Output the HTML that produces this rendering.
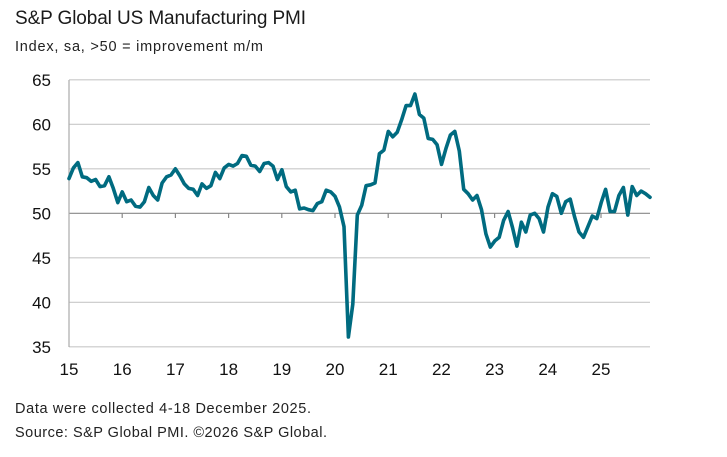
<!DOCTYPE html>
<html><head><meta charset="utf-8"><style>
body{margin:0;background:#fff;width:727px;height:452px;overflow:hidden;font-family:"Liberation Sans",sans-serif;color:#1a1a1a}
</style></head><body>
<svg width="727" height="452" xmlns="http://www.w3.org/2000/svg" font-family="Liberation Sans, sans-serif">
<text x="15" y="24" font-size="19" fill="#1a1a1a" textLength="291">S&amp;P Global US Manufacturing PMI</text>
<text x="15" y="51" font-size="14.5" fill="#222" textLength="248">Index, sa, &gt;50 = improvement m/m</text>
<g stroke="#c8c8c8" stroke-width="1.2" id="grid"></g>
<line x1="69" y1="80" x2="69" y2="347" stroke="#aaa" stroke-width="1.2"/>
<g font-size="17" fill="#111" text-anchor="end" id="ylab"></g>
<g font-size="17" fill="#111" text-anchor="middle" id="xlab"></g>
<polyline id="pl" fill="none" stroke="#006b80" stroke-width="3.6" stroke-linejoin="round" stroke-linecap="round"/>
<text x="15" y="413" font-size="14.5" fill="#222" textLength="296">Data were collected 4-18 December 2025.</text>
<text x="15" y="437" font-size="14.5" fill="#222" textLength="312">Source: S&amp;P Global PMI. ©2026 S&amp;P Global.</text>
</svg>
<script>
var ns="http://www.w3.org/2000/svg";
function Y(v){return 213.3-(v-50)*8.9;}
var g=document.getElementById('grid'),yl=document.getElementById('ylab'),xl=document.getElementById('xlab');
for(var v=35;v<=65;v+=5){var l=document.createElementNS(ns,'line');l.setAttribute('x1',69);l.setAttribute('x2',650);l.setAttribute('y1',Y(v));l.setAttribute('y2',Y(v));if(v==50)l.setAttribute('stroke','#888');g.appendChild(l);
var t=document.createElementNS(ns,'text');t.setAttribute('x',51);t.setAttribute('y',Y(v)+6);t.textContent=v;yl.appendChild(t);}
for(var i=0;i<11;i++){var x=69+i*53.2;if(i>0){var k=document.createElementNS(ns,'line');k.setAttribute('x1',x);k.setAttribute('x2',x);k.setAttribute('y1',213.3);k.setAttribute('y2',218);k.setAttribute('stroke','#888');g.appendChild(k);}
var t=document.createElementNS(ns,'text');t.setAttribute('x',x);t.setAttribute('y',375);t.textContent=15+i;xl.appendChild(t);}
var d=[53.9,55.1,55.7,54.1,54.0,53.6,53.8,53.0,53.1,54.1,52.8,51.2,
52.4,51.3,51.5,50.8,50.7,51.3,52.9,52.0,51.5,53.4,54.1,54.3,
55.0,54.2,53.3,52.8,52.7,52.0,53.3,52.8,53.1,54.6,53.9,55.1,
55.5,55.3,55.6,56.5,56.4,55.4,55.3,54.7,55.6,55.7,55.3,53.8,
54.9,53.0,52.4,52.6,50.5,50.6,50.4,50.3,51.1,51.3,52.6,52.4,
51.9,50.7,48.5,36.1,39.8,49.8,50.9,53.1,53.2,53.4,56.7,57.1,
59.2,58.6,59.1,60.5,62.1,62.1,63.4,61.1,60.7,58.4,58.3,57.7,
55.5,57.3,58.8,59.2,57.0,52.7,52.2,51.5,52.0,50.4,47.7,46.2,
46.9,47.3,49.2,50.2,48.4,46.3,49.0,47.9,49.8,50.0,49.4,47.9,
50.7,52.2,51.9,50.0,51.3,51.6,49.6,47.9,47.3,48.5,49.7,49.4,
51.2,52.7,50.2,50.2,52.0,52.9,49.8,53.0,52.0,52.5,52.2,51.8];
var p=d.map(function(v,i){return (69+i*4.435).toFixed(1)+','+Y(v).toFixed(1)}).join(' ');
document.getElementById('pl').setAttribute('points',p);
</script>
</body></html>
